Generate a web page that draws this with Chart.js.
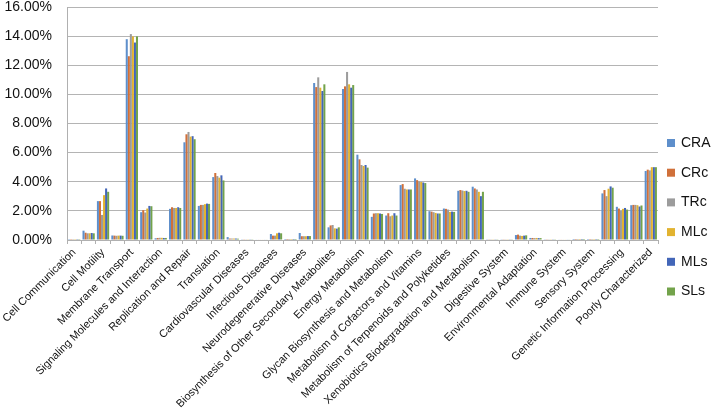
<!DOCTYPE html>
<html>
<head>
<meta charset="utf-8">
<script src="https://cdn.jsdelivr.net/npm/chart.js@4/dist/chart.umd.min.js"></script>
<style>
    html, body { margin: 0; padding: 0; background: #fff; }
    #wrap { width: 716px; height: 415px; }
</style>
</head>
<body>
<div id="wrap"><canvas id="chart"></canvas></div>
<script>
// KEGG level 2 categories (every other one gets a label on the axis)
const CATEGORIES = [
    'Cell Communication', 'Cell Growth and Death', 'Cell Motility', 'Transport and Catabolism',
    'Membrane Transport', 'Signal Transduction', 'Signaling Molecules and Interaction',
    'Folding, Sorting and Degradation', 'Replication and Repair', 'Transcription', 'Translation',
    'Cancers', 'Cardiovascular Diseases', 'Immune System Diseases', 'Infectious Diseases',
    'Metabolic Diseases', 'Neurodegenerative Diseases', 'Amino Acid Metabolism',
    'Biosynthesis of Other Secondary Metabolites', 'Carbohydrate Metabolism', 'Energy Metabolism',
    'Enzyme Families', 'Glycan Biosynthesis and Metabolism', 'Lipid Metabolism',
    'Metabolism of Cofactors and Vitamins', 'Metabolism of Other Amino Acids',
    'Metabolism of Terpenoids and Polyketides', 'Nucleotide Metabolism',
    'Xenobiotics Biodegradation and Metabolism', 'Circulatory System', 'Digestive System',
    'Endocrine System', 'Environmental Adaptation', 'Excretory System', 'Immune System',
    'Nervous System', 'Sensory System', 'Cellular Processes and Signaling',
    'Genetic Information Processing', 'Metabolism', 'Poorly Characterized'
];

// relative abundance, %
const CRA = [0.01, 0.64, 2.67, 0.31, 13.79, 1.91, 0.12, 2.14, 6.71, 2.34, 4.32, 0.20, 0.02, 0.03, 0.41, 0.07, 0.48,
    10.78, 0.87, 10.37, 5.86, 1.59, 1.68, 3.77, 4.23, 1.98, 2.16, 3.38, 3.66, 0.02, 0.02, 0.34, 0.14, 0.02, 0.04, 0.07,
    0.005, 3.20, 2.28, 2.39, 4.74];
const CRc = [0.01, 0.50, 2.67, 0.30, 12.62, 2.05, 0.14, 2.25, 7.26, 2.41, 4.60, 0.10, 0.02, 0.03, 0.30, 0.07, 0.26,
    10.50, 1.00, 10.55, 5.54, 1.82, 1.84, 3.84, 4.11, 1.95, 2.14, 3.43, 3.54, 0.02, 0.02, 0.37, 0.14, 0.02, 0.04, 0.07,
    0.005, 3.43, 2.16, 2.41, 4.83];
const TRc = [0.01, 0.46, 1.72, 0.29, 14.14, 1.89, 0.15, 2.20, 7.42, 2.41, 4.39, 0.10, 0.02, 0.03, 0.30, 0.07, 0.26,
    11.17, 1.03, 11.54, 5.15, 1.84, 1.63, 3.52, 4.02, 1.91, 2.09, 3.40, 3.47, 0.02, 0.02, 0.30, 0.13, 0.02, 0.04, 0.07,
    0.005, 3.01, 2.00, 2.41, 4.78];
const MLc = [0.01, 0.46, 3.08, 0.30, 13.98, 2.16, 0.15, 2.20, 7.10, 2.46, 4.28, 0.10, 0.02, 0.03, 0.46, 0.07, 0.26,
    10.46, 0.80, 10.69, 5.08, 1.84, 1.68, 3.47, 3.98, 1.86, 1.93, 3.36, 3.31, 0.02, 0.02, 0.28, 0.14, 0.02, 0.04, 0.07,
    0.005, 3.52, 2.14, 2.39, 5.00];
const MLs = [0.01, 0.48, 3.54, 0.30, 13.56, 2.34, 0.14, 2.25, 7.13, 2.50, 4.44, 0.10, 0.02, 0.03, 0.50, 0.07, 0.27,
    10.23, 0.78, 10.46, 5.15, 1.82, 1.84, 3.47, 3.95, 1.82, 1.95, 3.38, 3.01, 0.02, 0.02, 0.30, 0.13, 0.02, 0.04, 0.07,
    0.005, 3.68, 2.20, 2.30, 5.00];
const SLs = [0.01, 0.46, 3.31, 0.29, 13.98, 2.32, 0.14, 2.20, 6.92, 2.48, 4.09, 0.09, 0.02, 0.03, 0.46, 0.07, 0.27,
    10.69, 0.87, 10.64, 4.97, 1.79, 1.68, 3.47, 3.91, 1.82, 1.93, 3.31, 3.31, 0.02, 0.02, 0.32, 0.13, 0.02, 0.04, 0.07,
    0.005, 3.59, 2.09, 2.37, 5.00];

const SERIES = ['CRA', 'CRc', 'TRc', 'MLc', 'MLs', 'SLs'];
const VALUES = [CRA, CRc, TRc, MLc, MLs, SLs];
const COLORS = ['#5e8fcb', '#d0703a', '#9c9c9c', '#e2b330', '#4366b8', '#73a34b'];

const Y_MAX = 16;
const Y_STEP = 2;

const FONT = '"Liberation Sans", Arial, sans-serif';

// legend drawn to the right of the plot, Excel style
const sideLegend = {
    id: 'sideLegend',
    afterDraw(chart, args, opts) {
        const ctx = chart.ctx;
        const x = chart.chartArea.right + opts.offsetX;
        ctx.save();
        ctx.font = opts.fontSize + 'px ' + FONT;
        ctx.textBaseline = 'middle';
        ctx.textAlign = 'left';
        chart.data.datasets.forEach((ds, i) => {
            const y = opts.top + i * opts.step;
            ctx.fillStyle = ds.backgroundColor;
            ctx.fillRect(x, y - opts.box / 2, opts.box, opts.box);
            ctx.fillStyle = '#111';
            ctx.fillText(ds.label, x + opts.box + 6, y);
        });
        ctx.restore();
    }
};

new Chart(document.getElementById('chart'), {
    type: 'bar',
    data: {
        labels: CATEGORIES,
        datasets: SERIES.map((name, i) => ({
            label: name,
            data: VALUES[i],
            backgroundColor: COLORS[i],
            categoryPercentage: 0.85,
            barPercentage: 1.0
        }))
    },
    options: {
        responsive: true,
        maintainAspectRatio: false,
        animation: false,
        layout: { padding: { right: 58, top: 0, left: 0, bottom: 0 } },
        plugins: {
            legend: { display: false },
            tooltip: { enabled: false },
            sideLegend: { offsetX: 9, top: 143, step: 29.7, box: 8, fontSize: 14 }
        },
        scales: {
            x: {
                offset: true,
                grid: { offset: true, drawOnChartArea: false, tickLength: 4, color: '#b0b0b0' },
                border: { color: '#b0b0b0' },
                ticks: {
                    autoSkip: false,
                    maxRotation: 45,
                    minRotation: 45,
                    padding: 2,
                    color: '#111',
                    font: { family: FONT, size: 11 },
                    callback: (v, i) => (i % 2 === 0 ? CATEGORIES[i] : '')
                },
                afterFit: (scale) => { scale.height = 175; }
            },
            y: {
                min: 0,
                max: Y_MAX,
                grid: { color: '#b4b4b4', drawTicks: false },
                border: { color: '#b0b0b0' },
                ticks: {
                    stepSize: Y_STEP,
                    padding: 15,
                    color: '#111',
                    font: { family: FONT, size: 14 },
                    callback: (v) => v.toFixed(2) + '%'
                },
                afterFit: (scale) => {
                    scale.width = 67;
                    scale.paddingTop = 7;
                    scale.paddingBottom = 0;
                }
            }
        }
    },
    plugins: [sideLegend]
});
</script>
</body>
</html>
